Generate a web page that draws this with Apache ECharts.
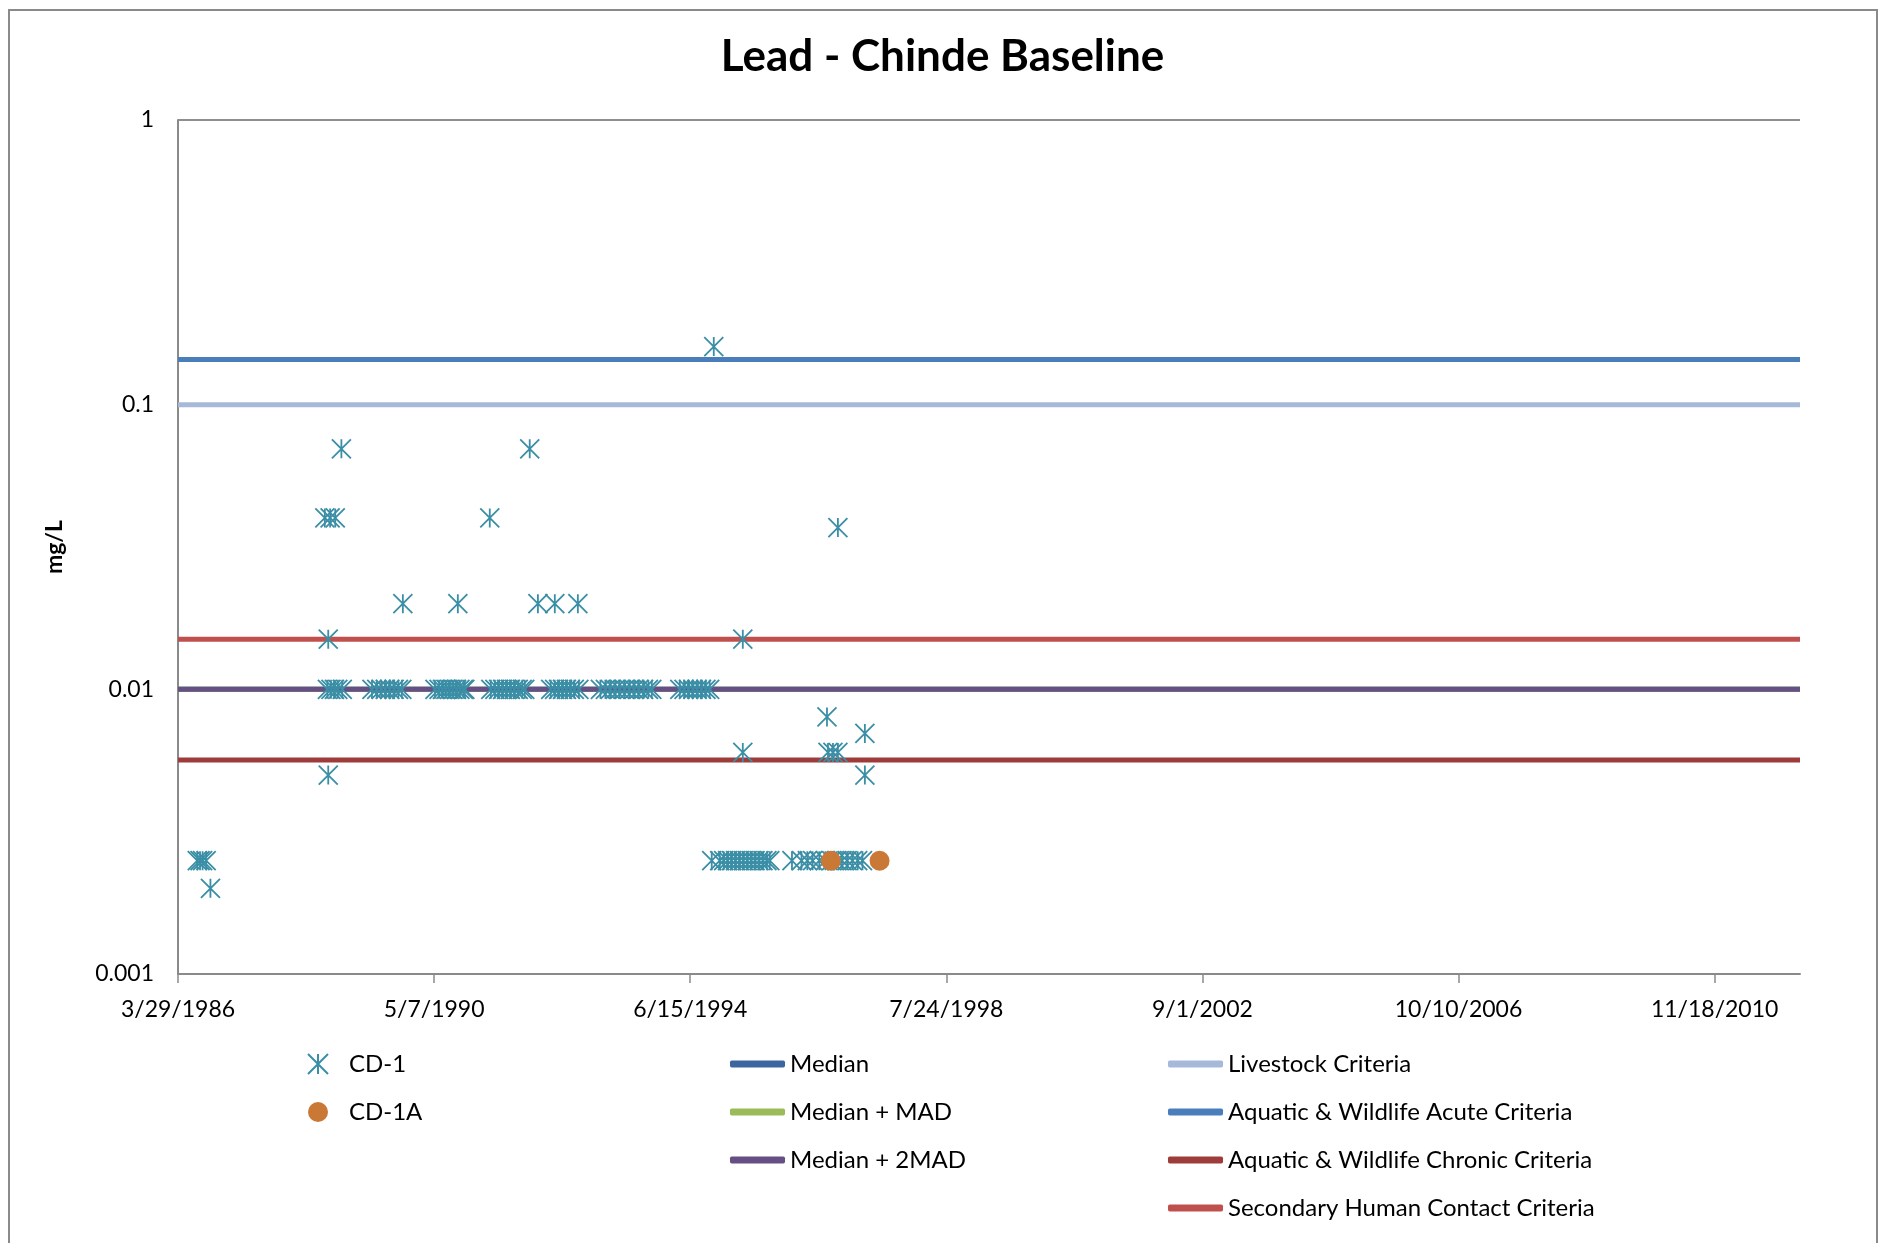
<!DOCTYPE html>
<html>
<head>
<meta charset="utf-8">
<title>Lead - Chinde Baseline</title>
<script src="https://cdn.jsdelivr.net/npm/echarts@6/dist/echarts.min.js"></script>
<style>
  html, body { margin: 0; padding: 0; background: #fff; }
  #chart { width: 1885px; height: 1243px; }
</style>
</head>
<body>
<div id="chart"></div>
<script>
// CD-1 samples: sample dates and lead concentration (mg/L), line by line in step
const cd1Dates = [
  '1986-07-20', '1986-08-05', '1986-08-20', '1986-09-10', '1986-10-05',
  '1988-08-05', '1988-09-05', '1988-10-05', '1988-08-25', '1988-08-25', '1988-11-10',
  '1988-08-20', '1988-09-10', '1988-09-30', '1988-10-20', '1988-11-15',
  '1989-05-08', '1989-06-05', '1989-07-01', '1989-07-25', '1989-08-20', '1989-09-15', '1989-10-10', '1989-10-30', '1989-11-05',
  '1990-05-12', '1990-06-05', '1990-06-25', '1990-07-15', '1990-08-05', '1990-08-25', '1990-09-15', '1990-10-05', '1990-10-25', '1990-11-03', '1990-09-23',
  '1991-03-29', '1991-04-04', '1991-04-28', '1991-05-20', '1991-06-12', '1991-07-05', '1991-07-28', '1991-08-20', '1991-09-12', '1991-10-05', '1991-10-20', '1991-11-18',
  '1992-01-05', '1992-04-13', '1992-08-26', '1992-03-20', '1992-04-12', '1992-05-05', '1992-05-28', '1992-06-20', '1992-07-13', '1992-08-05', '1992-09-01',
  '1993-01-05', '1993-02-03', '1993-03-03', '1993-04-01', '1993-04-28', '1993-05-26', '1993-06-23', '1993-07-21', '1993-08-18', '1993-09-15', '1993-10-13', '1993-11-02',
  '1994-04-15', '1994-05-10', '1994-06-05', '1994-07-01', '1994-07-25', '1994-08-20', '1994-09-15', '1994-10-07', '1994-10-31',
  '1994-10-19', '1994-12-05', '1994-12-28', '1995-01-20', '1995-02-12', '1995-03-07', '1995-03-30', '1995-04-22', '1995-05-15', '1995-06-07', '1995-06-30', '1995-07-23', '1995-08-15', '1995-09-07', '1995-09-24', '1995-04-19', '1995-04-19',
  '1996-02-01', '1996-03-28', '1996-05-01', '1996-06-01', '1996-07-10', '1996-08-15', '1996-09-20', '1996-10-20', '1996-11-20', '1996-12-20', '1997-01-20', '1997-02-20', '1997-03-20',
  '1996-08-24', '1996-08-30', '1996-09-28', '1996-10-27', '1996-10-27', '1997-04-03', '1997-04-03'
];
const cd1Values = [
  0.0025, 0.0025, 0.0025, 0.0025, 0.002,
  0.04, 0.04, 0.04, 0.015, 0.005, 0.07,
  0.01, 0.01, 0.01, 0.01, 0.01,
  0.01, 0.01, 0.01, 0.01, 0.01, 0.01, 0.01, 0.01, 0.02,
  0.01, 0.01, 0.01, 0.01, 0.01, 0.01, 0.01, 0.01, 0.01, 0.01, 0.02,
  0.04, 0.01, 0.01, 0.01, 0.01, 0.01, 0.01, 0.01, 0.01, 0.01, 0.01, 0.07,
  0.02, 0.02, 0.02, 0.01, 0.01, 0.01, 0.01, 0.01, 0.01, 0.01, 0.01,
  0.01, 0.01, 0.01, 0.01, 0.01, 0.01, 0.01, 0.01, 0.01, 0.01, 0.01, 0.01,
  0.01, 0.01, 0.01, 0.01, 0.01, 0.01, 0.01, 0.01, 0.16,
  0.0025, 0.0025, 0.0025, 0.0025, 0.0025, 0.0025, 0.0025, 0.0025, 0.0025, 0.0025, 0.0025, 0.0025, 0.0025, 0.0025, 0.0025, 0.015, 0.006,
  0.0025, 0.0025, 0.0025, 0.0025, 0.0025, 0.0025, 0.0025, 0.0025, 0.0025, 0.0025, 0.0025, 0.0025, 0.0025,
  0.008, 0.006, 0.006, 0.006, 0.037, 0.007, 0.005
];

const cd1aDates = ['1996-09-16', '1997-06-28'];
const cd1aValues = [0.0025, 0.0025];

// statistics and criteria lines (mg/L)
const refNames = [
  'Median', 'Median + MAD', 'Median + 2MAD',
  'Livestock Criteria', 'Aquatic & Wildlife Acute Criteria',
  'Aquatic & Wildlife Chronic Criteria', 'Secondary Human Contact Criteria'
];
const refValues = [0.01, 0.01, 0.01, 0.1, 0.144, 0.00565, 0.015];
const refColors = ['#3d66a0', '#9bbb59', '#654f85', '#a7b9d9', '#4a7ebb', '#9d3c3a', '#c0504d'];

// x axis in Excel date serials, ticks every 1500 days
const xMin = 31500;
const xMax = 41000;
const xTicks = [31500, 33000, 34500, 36000, 37500, 39000, 40500];

const FONT = 'Lato, "Open Sans", sans-serif';
const ASTERISK = 'path://M0,0L10,10M10,0L0,10M5,0L5,10';

function toSerial(s) {
  const p = s.split('-').map(Number);
  return Date.UTC(p[0], p[1] - 1, p[2]) / 86400000 + 25569;
}

function serialLabel(v) {
  const d = new Date((v - 25569) * 86400000);
  return (d.getUTCMonth() + 1) + '/' + d.getUTCDate() + '/' + d.getUTCFullYear();
}

function logLabel(v) {
  if (v >= 1) return '1';
  return v.toFixed(Math.round(-Math.log10(v)));
}

const chart = echarts.init(document.getElementById('chart'));

const refSeries = refNames.map(function (name, i) {
  return {
    name: name,
    type: 'line',
    color: refColors[i],
    data: [[xMin, refValues[i]], [xMax, refValues[i]]],
    symbol: 'none',
    lineStyle: { color: refColors[i], width: 5 },
    silent: true,
    z: 2
  };
});

const legendText = { fontFamily: FONT, fontSize: 24, color: '#000' };

chart.setOption({
  animation: false,
  backgroundColor: '#fff',
  graphic: [{
    type: 'rect',
    shape: { x: 9, y: 10, width: 1868, height: 1300 },
    style: { fill: 'none', stroke: '#8a8a8a', lineWidth: 2 },
    silent: true
  }],
  title: {
    text: 'Lead - Chinde Baseline',
    left: 'center',
    top: 35,
    padding: 0,
    textStyle: { fontFamily: FONT, fontSize: 44, fontWeight: 'bold', color: '#000' }
  },
  grid: { left: 178, right: 85, top: 120, bottom: 269, containLabel: false },
  xAxis: {
    type: 'value',
    min: xMin,
    max: xMax,
    interval: 1500,
    axisLine: { show: true, lineStyle: { color: '#8a8a8a', width: 2 } },
    axisTick: { show: true, length: 9, customValues: xTicks, lineStyle: { color: '#8a8a8a', width: 1.5 } },
    splitLine: { show: false },
    axisLabel: {
      customValues: xTicks,
      margin: 24,
      fontFamily: FONT,
      fontSize: 23,
      color: '#000',
      formatter: serialLabel
    }
  },
  yAxis: {
    type: 'log',
    logBase: 10,
    min: 0.001,
    max: 1,
    name: 'mg/L',
    nameLocation: 'middle',
    nameGap: 112,
    nameTextStyle: { fontFamily: FONT, fontSize: 23, fontWeight: 'bold', color: '#000' },
    axisLine: { show: true, lineStyle: { color: '#8a8a8a', width: 2 } },
    axisTick: { show: false },
    splitLine: { show: true, lineStyle: { color: '#8f8f8f', width: 2 } },
    axisLabel: { margin: 24, fontFamily: FONT, fontSize: 23, color: '#000', formatter: logLabel }
  },
  legend: [
    {
      data: ['CD-1', 'CD-1A'],
      orient: 'vertical',
      left: 307,
      top: 1052,
      padding: 0,
      itemWidth: 52,
      itemHeight: 20,
      itemGap: 24,
      selectedMode: false,
      textStyle: legendText
    },
    {
      data: refNames.slice(0, 3),
      orient: 'vertical',
      left: 730,
      top: 1052,
      padding: 0,
      icon: 'roundRect',
      itemWidth: 55,
      itemHeight: 7,
      itemGap: 24,
      selectedMode: false,
      textStyle: legendText
    },
    {
      data: refNames.slice(3),
      orient: 'vertical',
      left: 1168,
      top: 1052,
      padding: 0,
      icon: 'roundRect',
      itemWidth: 55,
      itemHeight: 7,
      itemGap: 24,
      selectedMode: false,
      textStyle: legendText
    }
  ],
  series: refSeries.concat([
    {
      name: 'CD-1',
      type: 'scatter',
      data: cd1Dates.map(function (d, i) { return [toSerial(d), cd1Values[i]]; }),
      symbol: ASTERISK,
      symbolSize: 19,
      itemStyle: { color: '#3a8ea5', borderColor: '#3a8ea5', borderWidth: 1.8, opacity: 1 },
      z: 5
    },
    {
      name: 'CD-1A',
      type: 'scatter',
      data: cd1aDates.map(function (d, i) { return [toSerial(d), cd1aValues[i]]; }),
      symbol: 'circle',
      symbolSize: 20,
      itemStyle: { color: '#c97835', opacity: 1 },
      z: 6
    }
  ])
});
</script>
</body>
</html>
